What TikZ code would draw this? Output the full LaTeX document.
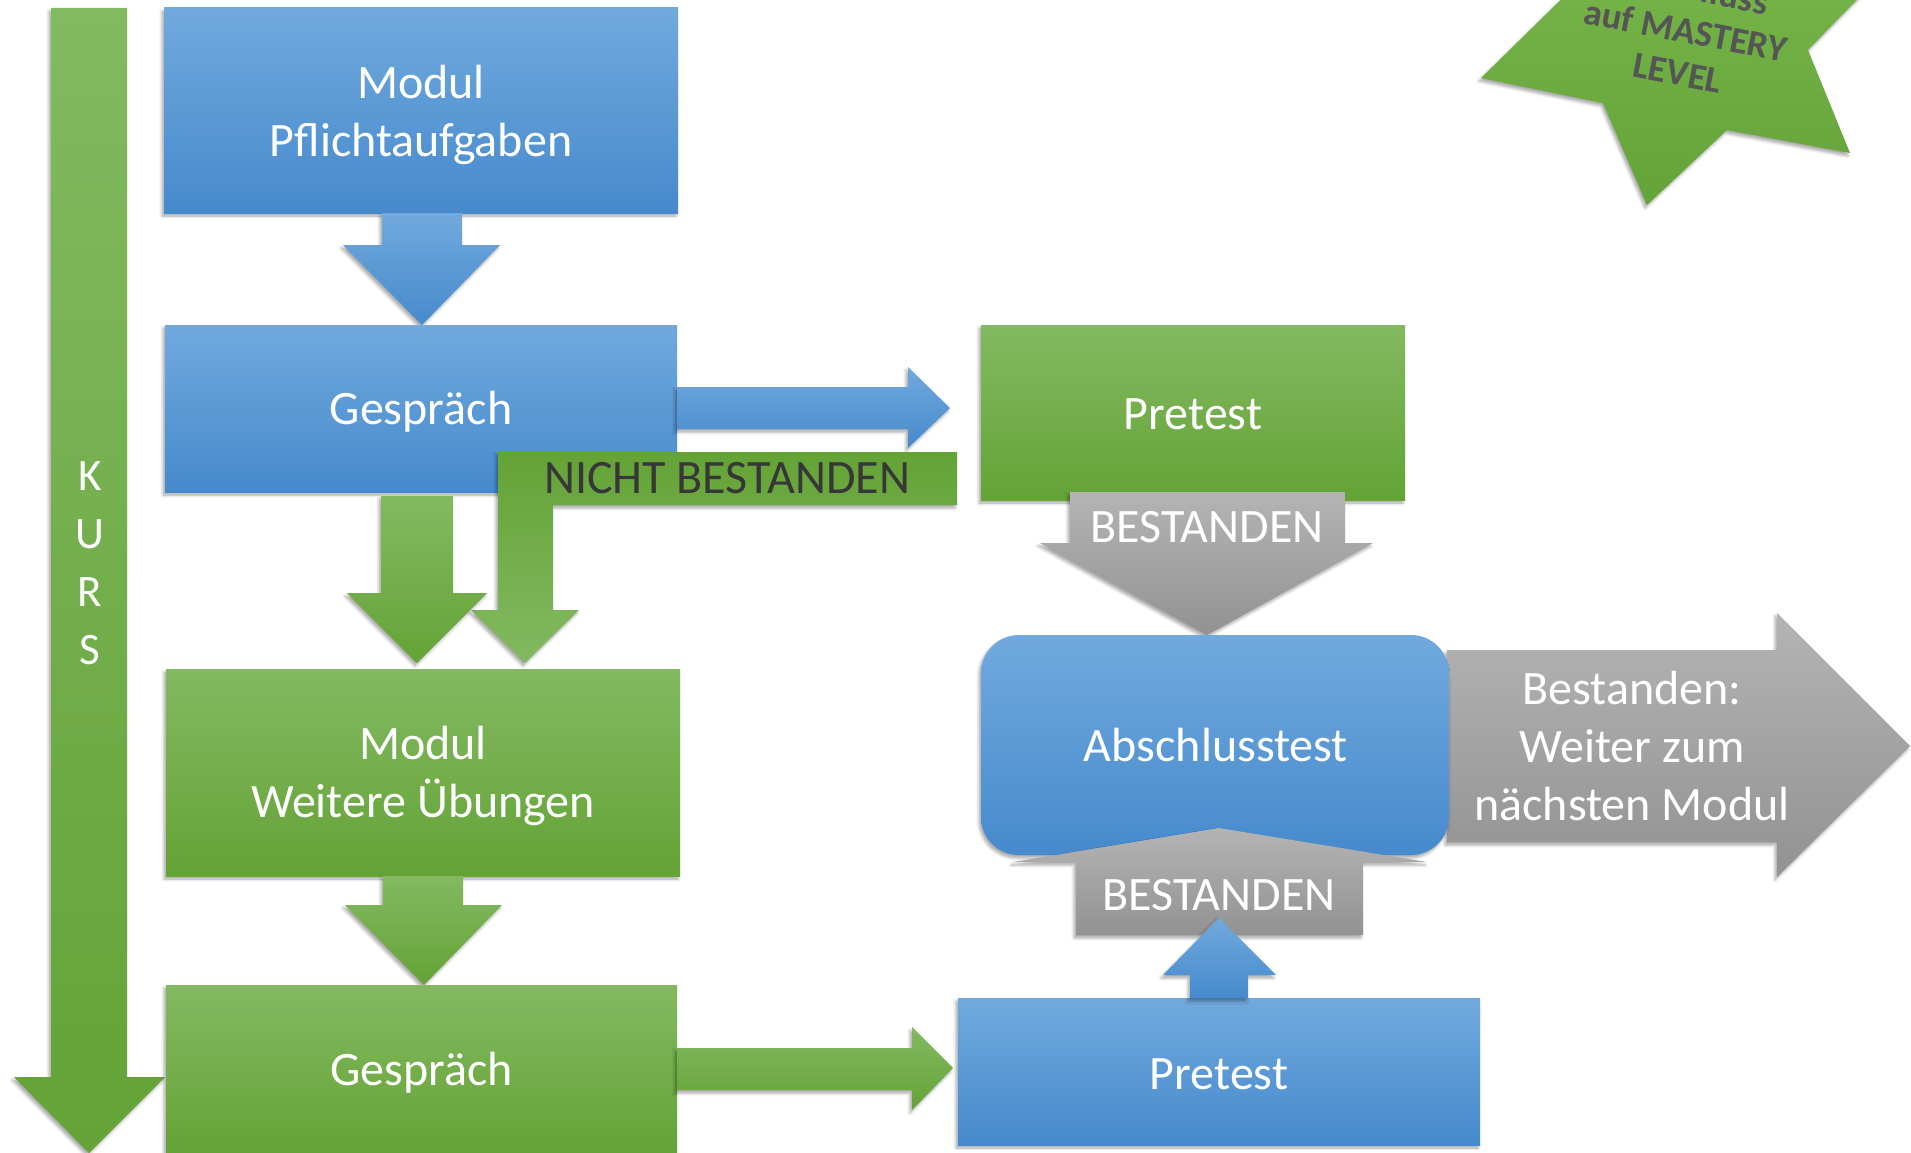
\documentclass[tikz,border=0pt]{standalone}
\usepackage{fontspec}
\setmainfont{Carlito}
\usetikzlibrary{shadows.blur}
\definecolor{bluetop}{RGB}{113,169,221}
\definecolor{bluebot}{RGB}{70,138,205}
\definecolor{greentop}{RGB}{131,185,97}
\definecolor{greenbot}{RGB}{100,163,54}
\definecolor{graytop}{RGB}{180,180,180}
\definecolor{graybot}{RGB}{146,146,146}
\definecolor{startop}{RGB}{116,180,72}
\definecolor{starbot}{RGB}{100,163,55}
\definecolor{darktext}{RGB}{55,55,55}
\definecolor{startext}{RGB}{85,85,85}
\tikzset{
  shad/.style={blur shadow={shadow xshift=-2pt, shadow yshift=-3pt, shadow blur radius=3pt, shadow opacity=35}},
  bluefill/.style={top color=bluetop, bottom color=bluebot, shad},
  greenfill/.style={top color=greentop, bottom color=greenbot, shad},
  greenrev/.style={top color=greenbot, bottom color=greentop, shad},
  grayfill/.style={top color=graytop, bottom color=graybot, shad},
  box/.style={inner sep=0pt, outer sep=0pt},
  lbl/.style={inner sep=0pt, align=center, text=white, font=\fontsize{48}{58}\selectfont},
}
\begin{document}
\begin{tikzpicture}[x=1pt,y=-1pt]
\clip (0,0) rectangle (1911,1153);

% KURS arrow
\path[greenfill] (51,8) -- (127,8) -- (127,1077) -- (165,1077) -- (89,1153) -- (14,1077) -- (51,1077) -- cycle;
\node[lbl, font=\fontsize{45}{58}\selectfont] (kurs) at (90,563) {K\\U\\R\\S};

% Box 1 and arrow down
\node[box, bluefill, minimum width=514pt, minimum height=205pt] (b1) at (421,110.5) {};
\node[lbl] (b1t) at (421,115) {Modul\\Pflichtaufgaben};
\path[bluefill] (382,213) -- (462,213) -- (462,245) -- (500,245) -- (422,325) -- (343,245) -- (382,245) -- cycle;

% Box 2 (Gespraech blue)
\node[box, bluefill, minimum width=512pt, minimum height=167pt] (b2) at (421,408.5) {};
\node[lbl] (b2t) at (421,412) {Gespräch};
\path[bluefill] (677,387) -- (908,387) -- (908,367) -- (950,408) -- (908,448) -- (908,429) -- (677,429) -- cycle;

% NICHT BESTANDEN bent arrow
\path[greenrev] (957,452) -- (957,505) -- (553,505) -- (553,610) -- (579,610) -- (525,663) -- (471,610) -- (498,610) -- (498,452) -- cycle;
\node[lbl, text=darktext] (nicht) at (727,478) {NICHT BESTANDEN};

% green arrow down from box 2
\path[greenfill] (381,496) -- (453,496) -- (453,593) -- (487,593) -- (417,663) -- (347,593) -- (381,593) -- cycle;

% Box 3
\node[box, greenfill, minimum width=514pt, minimum height=207pt] (b3) at (423,772.5) {};
\node[lbl] (b3t) at (423,775.5) {Modul\\Weitere Übungen};
\path[greenfill] (383,876) -- (463,876) -- (463,905) -- (502,905) -- (424,985) -- (345,905) -- (383,905) -- cycle;

% Box 4
\node[box, greenfill, minimum width=511pt, minimum height=170pt] (b4) at (421.5,1070) {};
\node[lbl] (b4t) at (421.5,1072.5) {Gespräch};
\path[greenfill] (677,1048) -- (912,1048) -- (912,1027) -- (953,1068) -- (912,1110) -- (912,1090) -- (677,1090) -- cycle;

% Pretest (blue)
\node[box, bluefill, minimum width=522pt, minimum height=147pt] (p2) at (1219,1071.5) {};
\node[lbl] (p2t) at (1219,1074) {Pretest};

% Pretest (green)
\node[box, greenfill, minimum width=424pt, minimum height=175pt] (p1) at (1193,412.5) {};
\node[lbl] (p1t) at (1193,414.5) {Pretest};

% gray BESTANDEN arrow (top, down)
\path[grayfill] (1070,492) -- (1345,492) -- (1345,543) -- (1373,543) -- (1207,635) -- (1040,543) -- (1070,543) -- cycle;
\node[lbl] (best1) at (1207,527) {BESTANDEN};

% gray right arrow
\path[grayfill] (1447,650) -- (1777,650) -- (1777,613) -- (1910,746) -- (1777,877) -- (1777,842) -- (1447,842) -- cycle;
\node[lbl] (weiter) at (1632,746) {Bestanden:\\Weiter zum\\nächsten Modul};

% Abschlusstest
\node[box, bluefill, rounded corners=38pt, minimum width=468pt, minimum height=220pt] (ab) at (1215,745) {};
\node[lbl] (abtext) at (1216,745.5) {Abschlusstest};

% gray BESTANDEN arrow (bottom, up)
\path[grayfill] (1076,935) -- (1076,862) -- (1013,862) -- (1219,828) -- (1427,862) -- (1363,862) -- (1363,935) -- cycle;
\node[lbl] (best2) at (1219,895) {BESTANDEN};

% blue arrow up from Pretest (on top of the gray arrow)
\path[bluefill] (1190,998) -- (1190,975) -- (1163,975) -- (1219,918) -- (1276,975) -- (1248,975) -- (1248,998) -- cycle;

% Star
\path[top color=startop, bottom color=starbot, shad] (1584,-23) -- (1481,78) -- (1603,103) -- (1647,205) -- (1727,130) -- (1850,153) -- (1808,50) -- (1881,-25) -- cycle;
\node[inner sep=0pt, align=center, text=startext, rotate=-11, font=\fontsize{37}{43}\selectfont\bfseries] (star) at (1686,30) {Abschluss\\auf MASTERY\\LEVEL};
\end{tikzpicture}
\end{document}
